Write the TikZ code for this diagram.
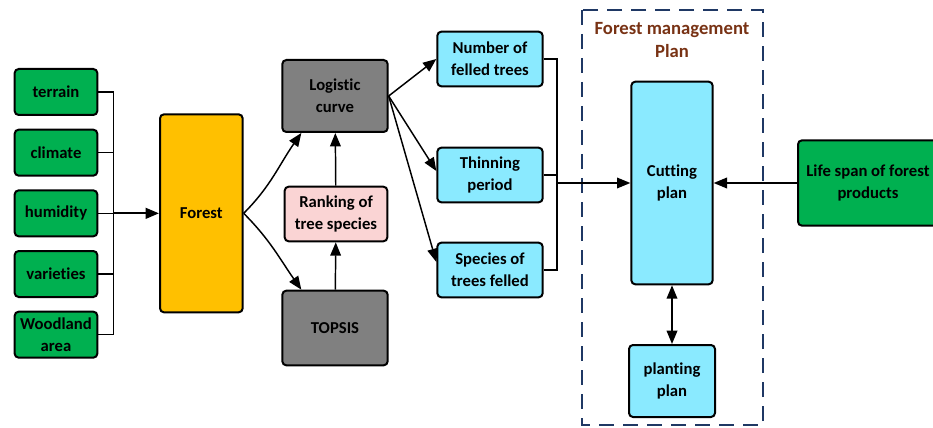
\documentclass[tikz,border=0pt]{standalone}
\usepackage{fontspec}
\setmainfont{Carlito}[Ligatures=NoCommon]
\usetikzlibrary{positioning}
\usetikzlibrary{arrows.meta}
\definecolor{factorgreen}{RGB}{0,176,80}
\definecolor{forestorange}{RGB}{255,192,0}
\definecolor{modelgray}{RGB}{128,128,128}
\definecolor{rankpink}{RGB}{250,212,212}
\definecolor{outcyan}{RGB}{138,234,255}
\definecolor{framenavy}{RGB}{31,56,100}
\definecolor{titlebrown}{RGB}{120,50,20}
\tikzset{box node/.style={rectangle,rounded corners=3pt,draw,line width=1.5pt,inner sep=2pt,align=center,font=\bfseries\fontsize{12.5}{16.5}\selectfont},}
\tikzset{factor node/.style={box node,fill=factorgreen,minimum width=62pt,minimum height=34.5pt},}
\tikzset{model node/.style={box node,fill=modelgray,minimum width=79pt,minimum height=54pt},}
\tikzset{output node/.style={box node,fill=outcyan,minimum width=79pt,minimum height=41pt},}
\tikzset{flow/.style={line width=1.1pt,>={Triangle[length=10pt,width=8pt]}},}

\begin{document}
\begin{tikzpicture}[x=0.75pt,y=-0.75pt]
     \useasboundingbox (0,0) rectangle (933,428);
     \node[factor node] (terrain) at (56,92) {terrain};
     \node[factor node] (climate) [below = 9.5pt of terrain] {climate};
     \node[factor node] (humidity) [below = 9.5pt of climate] {humidity};
     \node[factor node] (varieties) [below = 9.5pt of humidity] {varieties};
     \node[factor node] (woodland) [below = 9.5pt of varieties] {Woodland\\area};
     \coordinate[right = 11.5pt of humidity.east] (inbus);
     \node[box node,fill=forestorange,minimum width=62pt,minimum height=148.5pt] (forest) [right = 45.5pt of humidity] {Forest};

     \node[model node] (logit) at (335,96) {Logistic\\curve};
     \node[box node,fill=rankpink,minimum width=77pt,minimum height=41pt] (ranking) at (336,214) {Ranking of\\tree species};
     \node[model node,minimum height=56pt] (topsis) at (335,328) {TOPSIS};

     \node[output node] (number) at (490,59) {Number of\\felled trees};
     \node[output node] (thinning) at (490,175) {Thinning\\period};
     \node[output node] (species) at (490,270) {Species of\\trees felled};
     \coordinate (outbus) at (557,183);

     % forest management plan
     \draw[framenavy,line width=1.5pt,dash pattern=on 11pt off 7pt] (582,10) rectangle (763,425);
     \node[font=\bfseries\fontsize{14}{17}\selectfont,text=titlebrown,align=center] (plantitle) at (672,40) {Forest management\\Plan};
     \node[output node,minimum width=61pt,minimum height=152pt] (cutting) at (672,183) {Cutting\\plan};
     \node[output node,minimum width=64.5pt,minimum height=54pt] (planting) at (672,381) {planting\\plan};
     \node[factor node,minimum width=105pt,minimum height=64pt] (life) at (868,183) {Life span of forest\\products};

     \path[flow]
     (terrain.east) edge[-] (inbus |- terrain.east)
     (climate.east) edge[-] (inbus |- climate.east)
     (varieties.east) edge[-] (inbus |- varieties.east)
     (woodland.east) edge[-] (inbus |- woodland.east)
     (humidity.east) edge[-] (inbus);
     \draw[flow] (inbus |- terrain.east) -- (inbus |- woodland.east);
     \draw[flow,->,line width=1.6pt] (inbus) -- (forest.west);

     \path[->,flow]
     (forest.east) edge[out=45,in=-125] ([xshift=15pt]logit.south west)
     (forest.east) edge[out=-45,in=125] ([xshift=15pt]topsis.north west)
     (topsis) edge (ranking)
     (ranking) edge (logit)
     (logit.east) edge (number.west)
     (logit.east) edge ([yshift=3pt]thinning.west)
     (logit.east) edge ([yshift=6pt]species.west);

     \draw[flow] (number.east) -| (outbus);
     \draw[flow] (thinning.east) -| (outbus);
     \draw[flow] (species.east) -| (outbus);
     \path[->,flow]
     (outbus) edge (cutting.west)
     (life.west) edge (cutting.east);
     \draw[<->,flow] (cutting.south) -- (planting.north);
  \end{tikzpicture}
\end{document}
